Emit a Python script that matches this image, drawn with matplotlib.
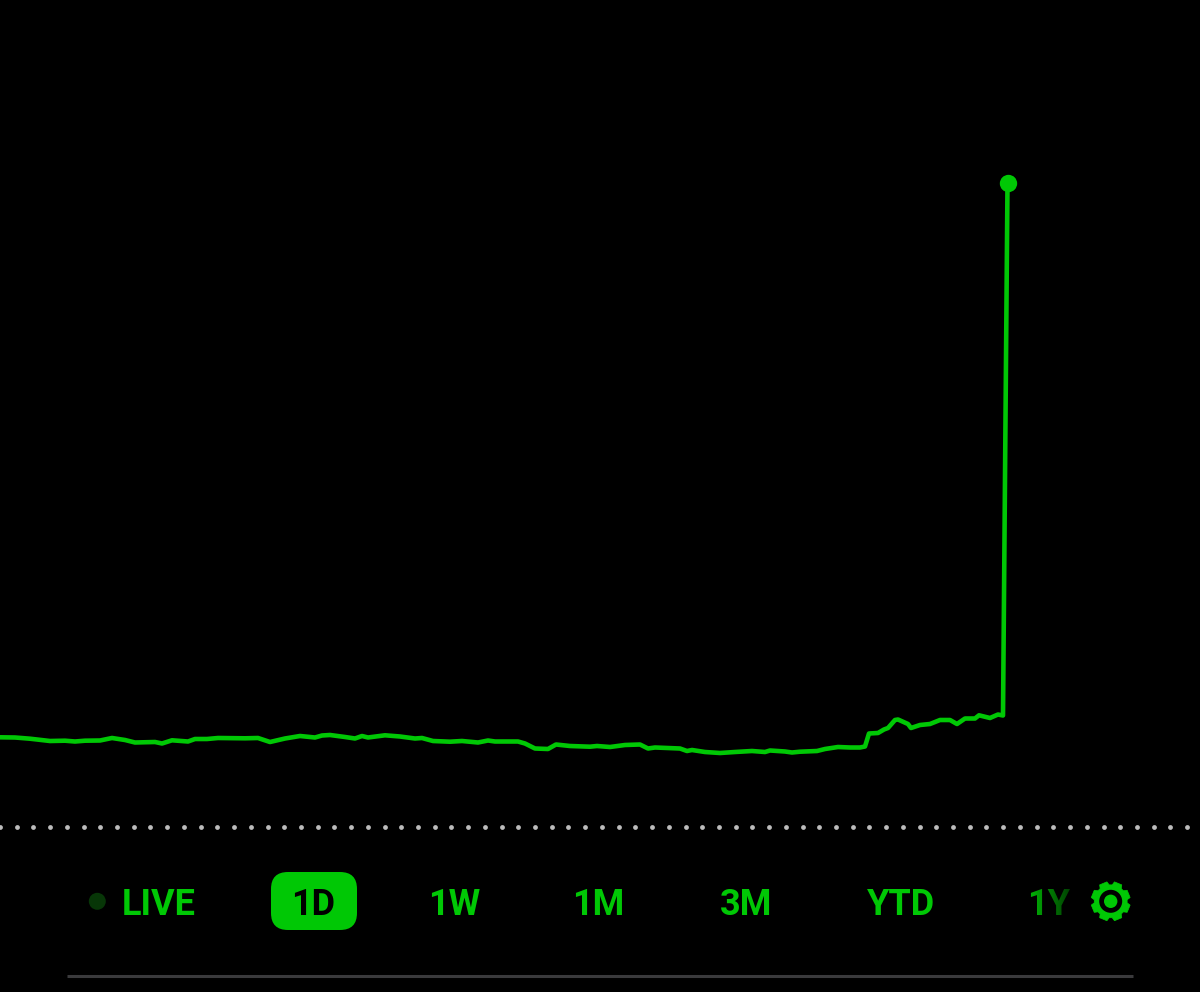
import numpy as np
import matplotlib
matplotlib.use("Agg")
import matplotlib.pyplot as plt
from matplotlib.patches import Circle, FancyBboxPatch, Polygon
from matplotlib.colors import LinearSegmentedColormap

# Price line (x position, height above the dotted baseline)
line_x = [0, 15, 30, 50, 65, 75, 85, 100, 112, 125, 135, 155, 162, 172, 188, 195, 207, 218,
          245, 258, 270, 285, 300, 315, 322, 330, 345, 355, 362, 368, 385, 400, 415, 422,
          433, 450, 462, 478, 488, 495, 518, 525, 535, 548, 556, 570, 590, 597, 610, 625,
          640, 648, 655, 680, 687, 692, 705, 720, 735, 752, 765, 770, 785, 792, 800, 817,
          825, 838, 850, 860, 865, 869, 878, 884, 888, 895, 898, 908, 911, 920, 930, 940,
          950, 957, 965, 975, 979, 990, 998, 1003, 1007.5]
line_h = [89.7, 89.5, 88.3, 86, 86.3, 85.5, 86.3, 86.5, 89, 87, 84.5, 85, 83.5, 86.7, 85.5, 88, 88, 89,
          88.7, 89, 85, 88.5, 91, 89.5, 91.5, 92, 90, 88.5, 91, 89.5, 91.7, 90.5, 88.5, 89,
          86, 85.3, 86, 84.5, 86.5, 85.5, 85.5, 83.5, 78.5, 78, 82.5, 81, 80.3, 81, 80, 82,
          82.5, 78.5, 79.5, 78.5, 76, 77, 75, 74, 75, 76, 75, 76.5, 75.5, 74.5, 75.3, 76,
          78, 80, 79.5, 79.5, 80.5, 93.5, 94, 97.5, 99, 107, 107.5, 103, 99, 102, 103, 107,
          107, 103, 108.5, 108.5, 111.7, 109, 112.5, 111.5, 644]

tabs = ["1W", "1M", "3M", "YTD"]
tab_x = [454, 598, 746, 901]

green = "#00c805"
bg = "#000000"

fig = plt.figure(figsize=(12, 9.92), dpi=100, facecolor=bg)

# pixel layer for the controls under the chart
ax = fig.add_axes([0, 0, 1, 1], facecolor=bg)
ax.set_xlim(0, 1200)
ax.set_ylim(992, 0)
ax.axis("off")

# chart layer, same extent as the figure
chart = fig.add_axes([0, 0, 1, 1], facecolor="none")
chart.set_xlim(0, 1200)
chart.set_ylim(-165, 827)
chart.axis("off")

chart.plot(line_x, line_h, color=green, lw=3.3, solid_joinstyle="round", solid_capstyle="round")
chart.plot(line_x[-1], line_h[-1], "o", color=green, ms=12.5, mew=0)

# dotted baseline
chart.scatter(np.arange(0, 1200, 16.72), np.zeros(72), s=12, color="#bcbcbc", linewidths=0)

font = dict(family="Roboto", fontweight="bold", fontsize=26, va="baseline", ha="center")

# live marker
ax.add_patch(Circle((97.3, 901.3), 8.5, color="#073607", lw=0))
ax.text(159, 915, "LIVE", color=green, **font)

# selected range
ax.add_patch(FancyBboxPatch((271, 872), 86, 58, boxstyle="round,pad=0,rounding_size=17",
                            facecolor=green, edgecolor=green, lw=0))
ax.text(313, 915, "1D", color="#000000", **font)

for name, x in zip(tabs, tab_x):
    ax.text(x, 915, name, color=green, **font)

# last tab fades out under the settings button
ax.text(1049, 915, "1Y", color=green, **font)
fade = LinearSegmentedColormap.from_list("fade", [(0, 0, 0, 0.05), (0, 0, 0, 0.7)])
ax.imshow(np.linspace(0, 1, 64).reshape(1, -1), cmap=fade, extent=(1026, 1072, 925, 880),
          aspect="auto", zorder=5, interpolation="bilinear")
ax.set_xlim(0, 1200)
ax.set_ylim(992, 0)

# settings gear
gx, gy = 1110.7, 901.3
angles = np.arange(8) * np.pi / 4 + np.pi / 8
gear = []
for a in angles:
    for da, r in [(-0.3, 16.5), (-0.2, 19.8), (0.2, 19.8), (0.3, 16.5)]:
        gear.append((gx + r * np.cos(a + da), gy + r * np.sin(a + da)))
ax.add_patch(Polygon(gear, closed=True, facecolor=green, edgecolor=green, lw=0.5, zorder=6))
ax.add_patch(Circle((gx, gy), 11.5, color=bg, lw=0, zorder=7))
ax.add_patch(Circle((gx, gy), 6.7, color=green, lw=0, zorder=8))

# bottom rule
ax.plot([67, 1133], [976, 976], color="#3a3a3c", lw=2.2, solid_capstyle="butt")

fig.savefig("out.png", dpi=100, facecolor=bg)
